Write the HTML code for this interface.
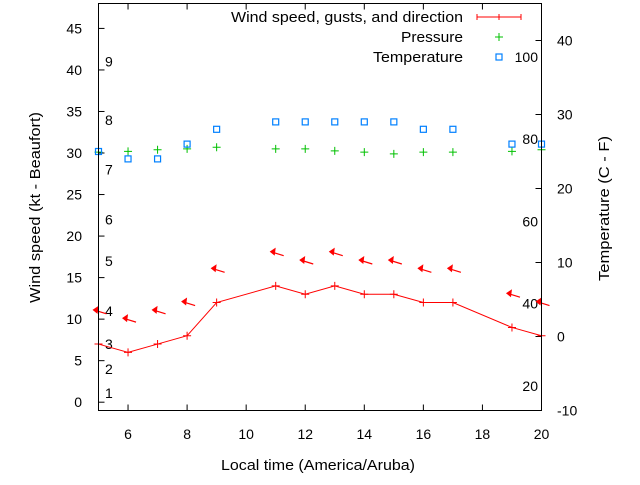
<!DOCTYPE html>
<html><head><meta charset="utf-8"><style>
html,body{margin:0;padding:0;background:#fff}
svg text{font-family:"Liberation Sans",sans-serif;font-size:14px;fill:#000}
svg text.big{font-size:15px}
</style></head><body>
<svg id="chart" width="640" height="480" xmlns="http://www.w3.org/2000/svg">
<rect x="0" y="0" width="640" height="480" fill="#fff"/>
<g id="axes"></g><g id="marks"></g>
<rect x="98.5" y="3.5" width="443" height="407" fill="none" stroke="#000"/>
<text class="big" x="221" y="470" textLength="194" lengthAdjust="spacingAndGlyphs">Local time (America/Aruba)</text>
<text class="big" transform="translate(40,303) rotate(-90)" textLength="191" lengthAdjust="spacingAndGlyphs">Wind speed (kt - Beaufort)</text>
<text class="big" transform="translate(609,281) rotate(-90)" textLength="145" lengthAdjust="spacingAndGlyphs">Temperature (C - F)</text>
<g>
<text class="big" x="231" y="22" textLength="232" lengthAdjust="spacingAndGlyphs">Wind speed, gusts, and direction</text>
<text class="big" x="401" y="42" textLength="62" lengthAdjust="spacingAndGlyphs">Pressure</text>
<text class="big" x="373" y="62" textLength="90" lengthAdjust="spacingAndGlyphs">Temperature</text>
<path d="M477,17H521M477,14V20M499,14V20M521,14V20" stroke="#f00" fill="none"/>
<path d="M495,37H503M499,33V41" stroke="#00c000" fill="none"/>
<rect x="496" y="54" width="6" height="6" fill="none" stroke="#0080ff" stroke-width="1.2"/>
</g>
</svg>
<script>
const hours=[5,6,7,8,9,11,12,13,14,15,16,17,19,20];
const wind=[7,6,7,8,12,14,13,14,13,13,12,12,9,8];
const gusts=[11,10,11,12,16,18,17,18,17,17,16,16,13,12];
const pressure=[30.1,30.2,30.4,30.5,30.7,30.5,30.5,30.25,30.1,29.9,30.1,30.1,30.2,30.4];
const temps=[25,24,24,26,28,29,29,29,29,29,28,28,26,26];
const xTicks=[6,8,10,12,14,16,18,20];
const yTicks=[0,5,10,15,20,25,30,35,40,45];
const y2Ticks=[-10,0,10,20,30,40];
const beaufort=[[1,1.1],[2,4],[3,7],[4,11],[5,17],[6,22],[7,28],[8,34],[9,41]];
const fahr=[20,40,60,80,100];
const X=v=>98.5+(v-5)*443/15;
const Y=v=>410.5-(v+1)*407/49;
const Y2=v=>410.5-(v+10)*407/55;
const NS="http://www.w3.org/2000/svg";
const ax=document.getElementById('axes'),mk=document.getElementById('marks');
function el(t,a,p){const e=document.createElementNS(NS,t);for(const k in a)e.setAttribute(k,a[k]);p.appendChild(e);return e;}
function tx(x,y,s,anc,p){const e=el('text',{x:x,y:y,'text-anchor':anc},p);e.textContent=s;return e;}
xTicks.forEach(v=>{const x=X(v);
 const t=el('path',{d:`M${x},410.5V404.5M${x},3.5V9.5`,stroke:'#000'},ax);
 
 
 const l=tx(x,439,v,'middle',ax);
 
 });
yTicks.forEach(v=>{const y=Y(v);
 el('path',{d:`M98.5,${y}H104.5`,stroke:'#000'},ax);
 const l=tx(82,y+5,v,'end',ax);
 
 });
y2Ticks.forEach(v=>{const y=Y2(v);
 el('path',{d:`M541.5,${y}H535.5`,stroke:'#000'},ax);
 const l=tx(557,y+5,v,'start',ax);
 
 });
beaufort.forEach(b=>{const l=tx(105,Y(b[1])+5,b[0],'start',ax);
 
 });
fahr.forEach(f=>{const c=(f-32)*5/9;const l=tx(538,Y2(c)+5,f,'end',ax);
 
 });
const line=el('polyline',{points:hours.map((h,i)=>X(h)+','+Y(wind[i])).join(' '),fill:'none',stroke:'#f00'},mk);


hours.forEach((h,i)=>{const x=X(h),y=Y(wind[i]);
 const p=el('path',{d:`M${x-4},${y}H${x+4}M${x},${y-4}V${y+4}`,stroke:'#f00'},mk);
 
 });
hours.forEach((h,i)=>{const x=X(h),y=Y(gusts[i]);
 const g=el('g',{},mk);
 
 
 el('path',{d:`M${x-5},${y-1}L${x+8},${y+3}`,stroke:'#f00','stroke-width':1.2},g);
 el('polygon',{points:`${x-6},${y-1} ${x},${y-5} ${x-1},${y+3}`,fill:'#f00'},g);});
pressure.forEach((v,i)=>{const x=X(hours[i]),y=Y(v);
 const p=el('path',{d:`M${x-4},${y}H${x+4}M${x},${y-4}V${y+4}`,stroke:'#00c000'},mk);
 
 });
temps.forEach((v,i)=>{const x=X(hours[i]),y=Y2(v);
 const r=el('rect',{x:x-3,y:y-3,width:6,height:6,fill:'none',stroke:'#0080ff','stroke-width':1.2},mk);
 
 });
</script>
</body></html>
